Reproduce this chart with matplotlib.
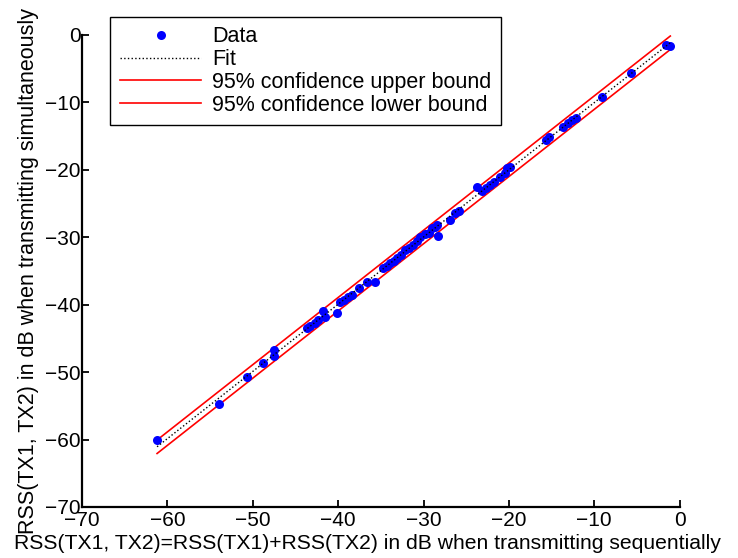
import numpy as np
import matplotlib
matplotlib.use('Agg')
import matplotlib.pyplot as plt

plt.rcParams['font.family'] = ['Liberation Sans', 'DejaVu Sans']

# RSS sum when transmitting one after the other (x) vs both at once (y), dB
rss_seq = [-61.2, -54.0, -50.7, -48.8, -47.5, -47.5,
           -43.7, -43.3, -42.7, -42.3, -41.8, -41.5, -40.1,
           -39.8, -39.3, -38.8, -38.4, -37.6, -36.6, -35.7,
           -34.8, -34.3, -33.9, -33.5, -33.1, -32.6, -32.2, -31.7, -31.2,
           -30.8, -30.4, -29.8, -29.4, -29.0, -28.7, -28.4, -28.3,
           -26.9, -26.3, -25.9,
           -23.7, -23.2, -22.7, -22.2, -21.7, -21.1, -20.5, -20.2, -19.9,
           -15.7, -15.3, -13.7, -13.1, -12.6, -12.2,
           -9.1, -5.7, -1.6, -1.1]
rss_sim = [-60.0, -54.7, -50.7, -48.7, -46.7, -47.6,
           -43.5, -43.2, -42.7, -42.3, -41.0, -41.8, -41.2,
           -39.6, -39.3, -38.9, -38.6, -37.5, -36.6, -36.6,
           -34.6, -34.2, -33.8, -33.5, -33.1, -32.6, -31.9, -31.6, -31.2,
           -30.6, -30.0, -29.5, -29.3, -28.6, -28.5, -28.2, -29.8,
           -27.4, -26.4, -26.1,
           -22.6, -23.2, -22.7, -22.3, -21.8, -21.1, -20.4, -19.8, -19.6,
           -15.6, -15.2, -13.6, -13.1, -12.6, -12.3,
           -9.2, -5.6, -1.5, -1.6]

conf_halfwidth = 1.0  # dB

x = np.array(rss_seq)
y = np.array(rss_sim)
p = np.polyfit(x, y, 1)
xf = np.array([x.min(), x.max()])
yf = np.polyval(p, xf)

fig = plt.figure(figsize=(7.38, 5.58), dpi=100)
ax = fig.add_axes([0.111, 0.0914, 0.81, 0.846])

ax.plot(x, y, 'o', color='#0000ff', markersize=6.5, markeredgewidth=0, label='Data', zorder=3)
ax.plot(xf, yf, ':', color='k', linewidth=1.0, label='Fit', zorder=4)
ax.plot(xf, yf + conf_halfwidth, '-', color='#ff0000', linewidth=1.2,
        label='95% confidence upper bound', zorder=2)
ax.plot(xf, yf - conf_halfwidth, '-', color='#ff0000', linewidth=1.2,
        label='95% confidence lower bound', zorder=2)

ax.set_xlim(-70, 0)
ax.set_ylim(-70, 0)
ax.set_xticks(range(-70, 1, 10))
ax.set_yticks(range(-70, 1, 10))
ax.spines['top'].set_visible(False)
ax.spines['right'].set_visible(False)
for s in ('left', 'bottom'):
    ax.spines[s].set_linewidth(1.6)
ax.tick_params(direction='in', length=5, width=1.3, labelsize=15, pad=3)
ax.tick_params(axis='y', pad=1)

ax.set_xlabel('RSS(TX1, TX2)=RSS(TX1)+RSS(TX2) in dB when transmitting sequentially',
              fontsize=15.2)
ax.xaxis.set_label_coords(0.478, -0.058)
ax.set_ylabel('RSS(TX1, TX2) in dB when transmitting simultaneously',
              fontsize=15.5, labelpad=4)

leg = ax.legend(loc='upper left', bbox_to_anchor=(0.149, 0.97),
                bbox_transform=fig.transFigure, fontsize=15.5, fancybox=False,
                framealpha=1, edgecolor='k', borderpad=0.45, labelspacing=0.08,
                handlelength=3.8, handletextpad=0.5, borderaxespad=0)
leg.get_frame().set_linewidth(1.0)

fig.savefig('out.png', dpi=100)
